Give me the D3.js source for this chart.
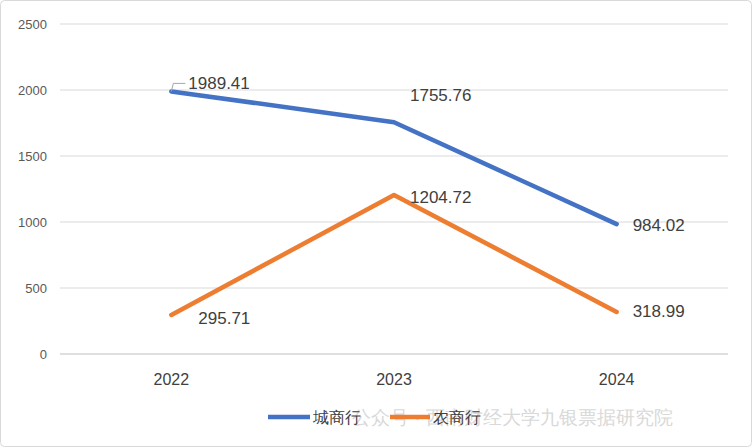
<!DOCTYPE html><html><head><meta charset="utf-8"><script src="https://cdn.jsdelivr.net/npm/d3@7"></script>
<style>body{margin:0;background:#fff}svg{font-family:"Liberation Sans",Arial,sans-serif}</style></head><body>
<svg id="c" width="752" height="447"></svg>
<script>
const years=["2022","2023","2024"];
const cityBank=[1989.41,1755.76,984.02];
const ruralBank=[295.71,1204.72,318.99];
const yTicks=[0,500,1000,1500,2000,2500];
const svg=d3.select("#c");
svg.append("rect").attr("x",0.5).attr("y",0.5).attr("width",751).attr("height",446).attr("rx",4).attr("fill","#fff").attr("stroke","#d9d9d9");
const x=d3.scaleBand().domain(years).range([60,728]);
const y=d3.scaleLinear().domain([0,2500]).range([354,24]);
const g=svg.append("g");
yTicks.forEach(t=>{
 g.append("line").attr("x1",60).attr("x2",728).attr("y1",y(t)).attr("y2",y(t)).attr("stroke",t===0?"#bfbfbf":"#d9d9d9");
 g.append("text").attr("x",47).attr("y",y(t)+5).attr("text-anchor","end").attr("font-size",13).attr("fill","#595959").text(t);
});
years.forEach(d=>g.append("text").attr("x",x(d)+x.bandwidth()/2).attr("y",385).attr("text-anchor","middle").attr("font-size",16).attr("fill","#404040").text(d));
const cx=d=>x(d)+x.bandwidth()/2;
const line=d3.line().x((v,i)=>cx(years[i])).y(v=>y(v));
svg.append("text").attr("x",352).attr("y",424).attr("font-size",19).attr("fill","#d0d0d0").attr("opacity",0.8).text("公众号 · 西南财经大学九银票据研究院");
const series=[[cityBank,"#4472c4"],[ruralBank,"#ed7d31"]];
series.forEach(([vals,c])=>svg.append("path").attr("d",line(vals)).attr("fill","none").attr("stroke",c).attr("stroke-width",4.5).attr("stroke-linejoin","round").attr("stroke-linecap","round"));
const lab=(i,v,dx,dy)=>svg.append("text").attr("x",cx(years[i])+dx).attr("y",y(v)+dy).attr("font-size",17).attr("fill","#404040").text(v.toFixed(2));
lab(0,cityBank[0],17,-2);lab(1,cityBank[1],16,-21);lab(2,cityBank[2],16,7);
lab(0,ruralBank[0],27,9);lab(1,ruralBank[1],16,8);lab(2,ruralBank[2],16,5);
svg.append("path").attr("d",`M${cx(years[0])},${y(cityBank[0])} L${cx(years[0])+2},${y(cityBank[0])-8} L${cx(years[0])+14},${y(cityBank[0])-8}`).attr("fill","none").attr("stroke","#a6a6a6");
const lg=svg.append("g");
lg.append("line").attr("x1",268).attr("x2",310).attr("y1",417).attr("y2",417).attr("stroke","#4472c4").attr("stroke-width",4.5);
lg.append("text").attr("x",313).attr("y",423).attr("font-size",16).attr("fill","#404040").text("城商行");
lg.append("line").attr("x1",390).attr("x2",430).attr("y1",417).attr("y2",417).attr("stroke","#ed7d31").attr("stroke-width",4.5);
lg.append("text").attr("x",433).attr("y",423).attr("font-size",16).attr("fill","#404040").text("农商行");
</script></body></html>
